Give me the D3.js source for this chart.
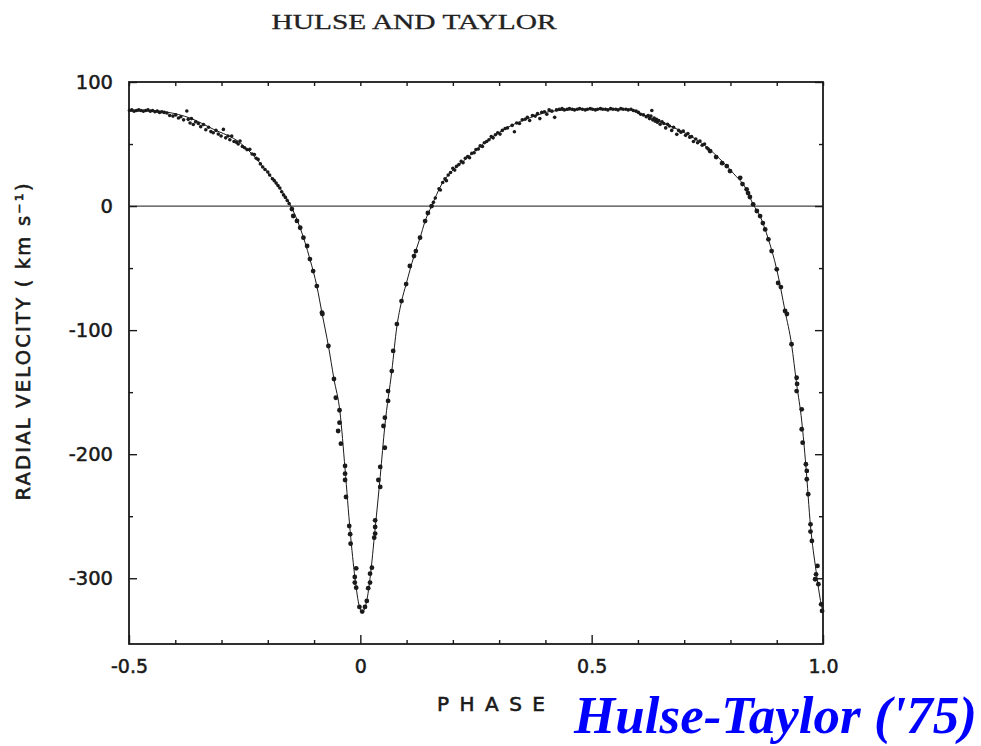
<!DOCTYPE html>
<html>
<head>
<meta charset="utf-8">
<script src="https://cdn.jsdelivr.net/npm/d3@7"></script>
<style>
	body { margin: 0; background: #fff; }
	svg { display: block; }
</style>
</head>
<body>
<div class="chart"></div>
<script>
// values: [phase, radial velocity km/s]
const xMajor = [ -0.5, 0, 0.5, 1.0 ];
const xMinor = [ -0.4, -0.3, -0.2, -0.1, 0.1, 0.2, 0.3, 0.4, 0.6, 0.7, 0.8, 0.9 ];
const yMajor = [ 100, 0, -100, -200, -300 ];
const yMinor = [ 50, -50, -150, -250 ];

// fitted curve (thin line)
const fitCurve = [
	[ -0.5, 76.6 ], [ -0.45, 76.8 ], [ -0.418, 75.7 ], [ -0.368, 70.9 ], [ -0.318, 62.0 ], [ -0.26, 51.0 ],
	[ -0.221, 36.5 ], [ -0.195, 24.5 ], [ -0.174, 14.5 ], [ -0.15, 0 ], [ -0.13, -17.7 ], [ -0.109, -42.7 ],
	[ -0.094, -64.5 ], [ -0.083, -86 ], [ -0.069, -112.8 ], [ -0.057, -139.4 ], [ -0.044, -166 ], [ -0.033, -212 ],
	[ -0.022, -262 ], [ -0.0115, -300 ], [ -0.002, -323 ], [ 0.004, -327 ], [ 0.014, -318 ], [ 0.021, -300 ],
	[ 0.032, -260 ], [ 0.043, -218 ], [ 0.053, -177 ], [ 0.068, -133 ], [ 0.079, -97 ], [ 0.089, -77 ],
	[ 0.099, -62.9 ], [ 0.116, -40.3 ], [ 0.129, -25.8 ], [ 0.14, -12.1 ], [ 0.154, 0 ], [ 0.176, 17.7 ],
	[ 0.198, 28.2 ], [ 0.223, 36.3 ], [ 0.273, 52.4 ], [ 0.324, 64.5 ], [ 0.367, 71.2 ], [ 0.417, 76.6 ],
	[ 0.489, 77.9 ], [ 0.576, 77.9 ], [ 0.604, 74.8 ], [ 0.633, 70.2 ], [ 0.67, 64.5 ], [ 0.705, 58.3 ],
	[ 0.749, 47.5 ], [ 0.777, 38 ], [ 0.806, 26.5 ], [ 0.835, 13 ], [ 0.849, 1.4 ], [ 0.864, -8.1 ], [ 0.882, -26.8 ],
	[ 0.9, -51 ], [ 0.918, -84.6 ], [ 0.932, -111.4 ], [ 0.943, -143.4 ], [ 0.954, -173.2 ], [ 0.963, -209.5 ],
	[ 0.973, -257.9 ], [ 0.985, -294 ], [ 0.996, -320.7 ], [ 1.0, -327 ]
];

// observed points on the slow (top) parts of the orbit
const dotsLeftArch = [
	[ -0.499, 77 ], [ -0.494, 77.5 ], [ -0.489, 76.5 ], [ -0.484, 77 ], [ -0.479, 77.5 ], [ -0.474, 77 ],
	[ -0.469, 76.5 ], [ -0.464, 77 ], [ -0.459, 77.5 ], [ -0.454, 76.5 ], [ -0.449, 77 ], [ -0.444, 76 ],
	[ -0.439, 76.5 ], [ -0.434, 75.5 ], [ -0.429, 76 ], [ -0.424, 75.5 ], [ -0.418, 75 ], [ -0.412, 73 ],
	[ -0.405, 72.5 ], [ -0.399, 73.5 ], [ -0.393, 71 ], [ -0.388, 72 ], [ -0.382, 69.5 ], [ -0.375, 76.6 ],
	[ -0.372, 69.9 ], [ -0.368, 67 ], [ -0.365, 70.5 ], [ -0.361, 65.8 ], [ -0.356, 68 ], [ -0.35, 66.5 ],
	[ -0.345, 64 ], [ -0.339, 65.8 ], [ -0.334, 61.5 ], [ -0.328, 63.5 ], [ -0.323, 60 ], [ -0.318, 59.1 ],
	[ -0.312, 61 ], [ -0.307, 58 ], [ -0.301, 56.5 ], [ -0.296, 61.8 ], [ -0.291, 55 ], [ -0.286, 56.5 ],
	[ -0.282, 53.5 ], [ -0.278, 56.4 ], [ -0.273, 52 ], [ -0.268, 51.5 ], [ -0.264, 50 ], [ -0.26, 52.4 ],
	[ -0.255, 48 ], [ -0.25, 47 ], [ -0.245, 45.5 ], [ -0.239, 45.7 ], [ -0.234, 42 ], [ -0.229, 41.5 ],
	[ -0.225, 38.5 ], [ -0.221, 37.6 ], [ -0.216, 34 ], [ -0.211, 31.5 ], [ -0.206, 29.5 ], [ -0.2, 27.5 ],
	[ -0.196, 25 ], [ -0.19, 22 ], [ -0.186, 20.5 ], [ -0.182, 18.5 ], [ -0.178, 16.5 ], [ -0.174, 14.5 ],
	[ -0.17, 11.5 ], [ -0.166, 9 ], [ -0.162, 7 ], [ -0.158, 4.5 ], [ -0.154, 2 ]
];

const dotsArch = [
	[ 0.158, 3 ], [ 0.162, 6.5 ], [ 0.17, 14 ], [ 0.173, 13 ], [ 0.178, 19 ], [ 0.183, 22 ], [ 0.186, 20.5 ],
	[ 0.19, 25 ], [ 0.195, 27 ], [ 0.2, 30.5 ], [ 0.204, 29 ], [ 0.208, 32 ], [ 0.213, 33.5 ], [ 0.218, 36 ],
	[ 0.222, 35 ], [ 0.227, 38.5 ], [ 0.232, 40 ], [ 0.236, 39 ], [ 0.241, 42.5 ], [ 0.246, 43 ], [ 0.25, 45.5 ],
	[ 0.255, 46 ], [ 0.259, 48.5 ], [ 0.264, 48 ], [ 0.268, 51 ], [ 0.273, 52 ], [ 0.278, 53.5 ], [ 0.283, 56 ],
	[ 0.287, 55 ], [ 0.292, 57.5 ], [ 0.297, 59 ], [ 0.302, 58 ], [ 0.307, 61 ], [ 0.313, 62.5 ], [ 0.318, 63 ],
	[ 0.328, 65 ], [ 0.333, 59.9 ], [ 0.338, 67 ], [ 0.344, 66.5 ], [ 0.35, 69.5 ], [ 0.356, 70 ], [ 0.361, 71.5 ],
	[ 0.366, 69 ], [ 0.372, 73 ], [ 0.378, 72.5 ], [ 0.383, 74.5 ], [ 0.388, 70.5 ], [ 0.392, 75.5 ], [ 0.398, 76 ],
	[ 0.403, 74 ], [ 0.408, 77.5 ], [ 0.414, 76.5 ], [ 0.42, 71.5 ], [ 0.424, 77.5 ], [ 0.43, 78 ], [ 0.436, 78.5 ],
	[ 0.441, 77.5 ], [ 0.447, 78 ], [ 0.452, 78.5 ], [ 0.458, 78 ], [ 0.463, 77.5 ], [ 0.469, 78 ], [ 0.474, 78.5 ],
	[ 0.48, 78 ], [ 0.486, 77.5 ], [ 0.491, 78 ], [ 0.497, 78.5 ], [ 0.502, 78 ], [ 0.508, 77.5 ], [ 0.513, 78 ],
	[ 0.519, 78.5 ], [ 0.524, 78 ], [ 0.53, 78 ], [ 0.535, 77.5 ], [ 0.541, 78.5 ], [ 0.546, 78 ], [ 0.552, 78 ],
	[ 0.557, 77.5 ], [ 0.563, 78.5 ], [ 0.568, 78 ], [ 0.574, 78 ], [ 0.579, 77.5 ], [ 0.585, 78 ], [ 0.59, 77 ],
	[ 0.596, 76.5 ], [ 0.601, 75.5 ], [ 0.606, 74 ], [ 0.612, 73.5 ], [ 0.618, 72 ], [ 0.622, 73 ], [ 0.625, 70.5 ],
	[ 0.628, 72.5 ], [ 0.63, 77 ], [ 0.632, 69.5 ], [ 0.635, 71 ], [ 0.637, 68.5 ], [ 0.64, 70 ], [ 0.642, 67.5 ],
	[ 0.645, 69 ], [ 0.648, 66 ], [ 0.652, 68 ], [ 0.656, 66.5 ], [ 0.66, 63 ], [ 0.664, 66 ], [ 0.668, 64.5 ],
	[ 0.673, 61 ], [ 0.677, 63.5 ], [ 0.684, 57.8 ], [ 0.688, 61 ], [ 0.693, 59.5 ], [ 0.698, 60.5 ], [ 0.703, 57 ],
	[ 0.708, 58.5 ], [ 0.712, 55.5 ], [ 0.716, 56 ], [ 0.72, 52 ], [ 0.725, 54 ], [ 0.729, 51 ], [ 0.734, 52.5 ],
	[ 0.739, 49 ], [ 0.744, 50 ], [ 0.749, 47 ], [ 0.752, 46 ]
];

// observed points on the steep parts (near periastron)
const dotsDip = [
	[ -0.148, -2.4 ], [ -0.145, -8 ], [ -0.137, -12 ], [ -0.13, -17.5 ], [ -0.123, -25.5 ], [ -0.115, -32.2 ],
	[ -0.109, -42.7 ], [ -0.102, -52.4 ], [ -0.094, -64.5 ], [ -0.083, -86 ], [ -0.082, -87 ], [ -0.069, -112.8 ],
	[ -0.057, -139.4 ], [ -0.053, -154.5 ], [ -0.045, -164.6 ], [ -0.045, -174.6 ], [ -0.048, -181.3 ],
	[ -0.042, -191.5 ], [ -0.033, -209.5 ], [ -0.033, -215.7 ], [ -0.033, -220.8 ], [ -0.031, -234.5 ],
	[ -0.024, -257.9 ], [ -0.022, -264.5 ], [ -0.021, -272.1 ], [ -0.009, -292 ], [ -0.012, -299 ], [ -0.012, -303.5 ],
	[ -0.009, -307.6 ], [ -0.002, -323.1 ], [ 0.004, -326.9 ], [ 0.01, -323.1 ], [ 0.014, -318.3 ], [ 0.017, -308 ],
	[ 0.021, -303.5 ], [ 0.021, -296.3 ], [ 0.025, -291.5 ], [ 0.03, -267.3 ], [ 0.032, -264 ], [ 0.032, -258.7 ],
	[ 0.032, -253.3 ], [ 0.043, -226.4 ], [ 0.039, -220.8 ], [ 0.043, -210.3 ], [ 0.053, -194.8 ], [ 0.05, -177.3 ],
	[ 0.053, -170.6 ], [ 0.06, -157.1 ], [ 0.06, -149.1 ], [ 0.068, -133 ], [ 0.071, -116.8 ], [ 0.079, -95.1 ],
	[ 0.089, -76.6 ], [ 0.099, -62.9 ], [ 0.107, -48.3 ], [ 0.116, -40.3 ], [ 0.12, -36.3 ], [ 0.129, -25.5 ],
	[ 0.14, -12.1 ], [ 0.146, -5.6 ], [ 0.154, 0 ]
];

const dotsRightDip = [
	[ 0.756, 44.3 ], [ 0.769, 39.5 ], [ 0.782, 34.6 ], [ 0.792, 32.2 ], [ 0.799, 28.2 ], [ 0.821, 22.8 ],
	[ 0.826, 17.7 ], [ 0.835, 13.5 ], [ 0.838, 10.5 ], [ 0.842, 7.3 ], [ 0.849, 1.4 ], [ 0.857, -4 ], [ 0.864, -8.1 ],
	[ 0.87, -13.7 ], [ 0.875, -18.8 ], [ 0.882, -26.8 ], [ 0.889, -36.3 ], [ 0.9, -51 ], [ 0.903, -62 ],
	[ 0.909, -65.3 ], [ 0.918, -84.6 ], [ 0.922, -87 ], [ 0.932, -111.4 ], [ 0.943, -138.4 ], [ 0.944, -143.4 ],
	[ 0.943, -149.1 ], [ 0.954, -163.8 ], [ 0.954, -179.9 ], [ 0.956, -190.7 ], [ 0.963, -208.1 ], [ 0.965, -213.5 ],
	[ 0.965, -220.2 ], [ 0.968, -232.3 ], [ 0.973, -256.5 ], [ 0.973, -262.4 ], [ 0.976, -269.9 ], [ 0.988, -290.1 ],
	[ 0.985, -296.8 ], [ 0.983, -300.8 ], [ 0.99, -304.8 ], [ 0.996, -321 ], [ 0.998, -326.3 ]
];

const svgWidth = 981;
const svgHeight = 746;
const margin = { top: 82, left: 129 };
const width = 694;
const height = 562;
const ink = '#1a1a1a';
const labelFont = 'DejaVu Sans, sans-serif';

const svg = d3
	.select('.chart')
	.append('svg')
	.attr('width', svgWidth)
	.attr('height', svgHeight);

const x = d3.scaleLinear().domain([ -0.5, 1.0 ]).range([ margin.left, margin.left + width ]);
const y = d3.scaleLinear().domain([ -353, 100 ]).range([ margin.top + height, margin.top ]);

const fmtX = (d) => (d === 0 ? '0' : (d < 0 ? '-' : '') + Math.abs(d).toFixed(1));
const fmtY = (d) => (d < 0 ? '-' : '') + Math.abs(d);

// zero line
svg
	.append('line')
	.attr('x1', x(-0.5))
	.attr('x2', x(1.0))
	.attr('y1', y(0))
	.attr('y2', y(0))
	.attr('stroke', '#444')
	.attr('stroke-width', 1.2);

// axes, ticks pointing inward
const styleAxis = (g, size) => {
	g.select('.domain').remove();
	g.selectAll('.tick line').attr('stroke', ink).attr('stroke-width', 1.4);
	g
		.selectAll('.tick text')
		.attr('fill', ink)
		.attr('stroke', ink)
		.attr('stroke-width', 0.5)
		.attr('font-family', labelFont)
		.attr('font-size', size);
};

const bottomY = margin.top + height;
const rightX = margin.left + width;

svg
	.append('g')
	.attr('transform', `translate(0,${bottomY})`)
	.call(d3.axisBottom(x).tickValues(xMinor).tickSize(-4).tickFormat(''))
	.call((g) => styleAxis(g, 0));
svg
	.append('g')
	.attr('transform', `translate(0,${bottomY})`)
	.call(d3.axisBottom(x).tickValues(xMajor).tickSize(-9).tickPadding(16).tickFormat(fmtX))
	.call((g) => styleAxis(g, 19));
svg
	.append('g')
	.attr('transform', `translate(0,${margin.top})`)
	.call(d3.axisTop(x).tickValues(xMinor.concat(xMajor)).tickSize(-4).tickFormat(''))
	.call((g) => styleAxis(g, 0));

svg
	.append('g')
	.attr('transform', `translate(${margin.left},0)`)
	.call(d3.axisLeft(y).tickValues(yMinor).tickSize(-4).tickFormat(''))
	.call((g) => styleAxis(g, 0));
svg
	.append('g')
	.attr('transform', `translate(${margin.left},0)`)
	.call(d3.axisLeft(y).tickValues(yMajor).tickSize(-8).tickPadding(16).tickFormat(fmtY))
	.call((g) => styleAxis(g, 19.5));
svg
	.append('g')
	.attr('transform', `translate(${rightX},0)`)
	.call(d3.axisRight(y).tickValues(yMinor).tickSize(-4).tickFormat(''))
	.call((g) => styleAxis(g, 0));
svg
	.append('g')
	.attr('transform', `translate(${rightX},0)`)
	.call(d3.axisRight(y).tickValues(yMajor).tickSize(-8).tickFormat(''))
	.call((g) => styleAxis(g, 0));

// frame
svg
	.append('rect')
	.attr('x', margin.left)
	.attr('y', margin.top)
	.attr('width', width)
	.attr('height', height)
	.attr('fill', 'none')
	.attr('stroke', ink)
	.attr('stroke-width', 1.8);

// fitted curve
const line = d3.line().x((d) => x(d[0])).y((d) => y(d[1])).curve(d3.curveMonotoneX);
svg
	.append('path')
	.datum(fitCurve)
	.attr('d', line)
	.attr('fill', 'none')
	.attr('stroke', ink)
	.attr('stroke-width', 1);

// data points
const drawDots = (data, r) => {
	svg
		.append('g')
		.selectAll('circle')
		.data(data)
		.join('circle')
		.attr('cx', (d) => x(d[0]))
		.attr('cy', (d) => y(d[1]))
		.attr('r', r)
		.attr('fill', ink);
};
drawDots(dotsLeftArch, 1.8);
drawDots(dotsArch, 1.8);
drawDots(dotsDip, 2.4);
drawDots(dotsRightDip, 2.4);

// title
svg
	.append('text')
	.attr('x', 414)
	.attr('y', 29)
	.attr('text-anchor', 'middle')
	.attr('font-family', 'Liberation Serif, serif')
	.attr('font-size', 20)
	.attr('textLength', 285)
	.attr('lengthAdjust', 'spacingAndGlyphs')
	.attr('fill', '#222')
	.attr('stroke', '#222')
	.attr('stroke-width', 0.3)
	.text('HULSE AND TAYLOR');

// text label for the x axis
svg
	.append('text')
	.attr('x', 491)
	.attr('y', 711)
	.attr('text-anchor', 'middle')
	.attr('font-family', labelFont)
	.attr('font-size', 20)
	.attr('textLength', 108)
	.attr('lengthAdjust', 'spacing')
	.attr('fill', ink)
	.attr('stroke', ink)
	.attr('stroke-width', 0.6)
	.text('PHASE');

// text label for the y axis
svg
	.append('text')
	.attr('transform', 'translate(30,342) rotate(-90)')
	.attr('text-anchor', 'middle')
	.attr('font-family', labelFont)
	.attr('font-size', 19.5)
	.attr('textLength', 317)
	.attr('lengthAdjust', 'spacing')
	.attr('fill', ink)
	.attr('stroke', ink)
	.attr('stroke-width', 0.6)
	.text('RADIAL  VELOCITY  ( km s\u207B\u00B9)');

// blue caption
svg
	.append('text')
	.attr('x', 977)
	.attr('y', 733)
	.attr('text-anchor', 'end')
	.attr('font-family', 'Liberation Serif, serif')
	.attr('font-style', 'italic')
	.attr('font-weight', 'bold')
	.attr('font-size', 53)
	.attr('fill', '#0000ff')
	.text("Hulse-Taylor ('75)");
</script>
</body>
</html>
